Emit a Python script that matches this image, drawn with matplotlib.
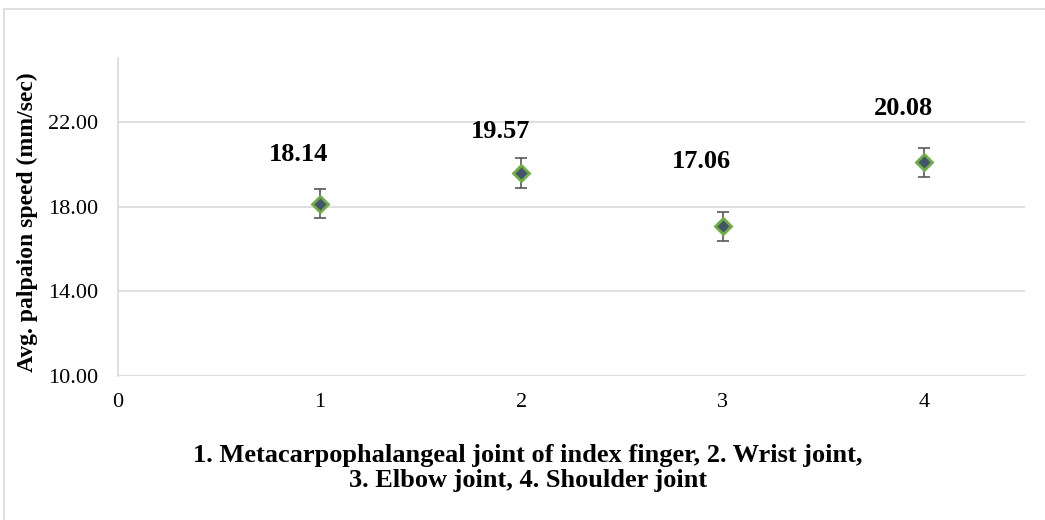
import matplotlib.pyplot as plt
from matplotlib.patches import Rectangle

plt.rcParams['font.family'] = ['Liberation Serif', 'DejaVu Serif']

joints = [1, 2, 3, 4]
speed = [18.14, 19.57, 17.06, 20.08]
err = [0.7, 0.7, 0.7, 0.7]
y_ticks = [10, 14, 18, 22]
x_ticks = [0, 1, 2, 3, 4]

# data label offsets (pixels), labels were dragged by hand in the original
label_dx = [-21, -21, -21, -21]
label_dy = [49, 42, 65, 54]

fig = plt.figure(figsize=(10.45, 5.2), dpi=100)
ax = fig.add_axes([0.1129, 0.277, 0.868, 0.611])

# outer chart border (Excel style)
fig.patches.append(Rectangle((4 / 1045, -0.1), 1.2, (520 - 9) / 520 + 0.1,
                             transform=fig.transFigure, fill=False,
                             edgecolor='#D9D9D9', linewidth=1.2))

ax.errorbar(joints, speed, yerr=err, fmt='none', ecolor='#595959',
            elinewidth=1.2, capsize=4.3, capthick=1.2, zorder=3)
ax.plot(joints, speed, linestyle='none', marker='D', markersize=8.5,
        markerfacecolor='#44546A', markeredgecolor='#70AD47',
        markeredgewidth=2, zorder=4)

for x, y, dx, dy in zip(joints, speed, label_dx, label_dy):
    ax.annotate(f'{y:.2f}', (x, y), xytext=(dx * 0.72, dy * 0.72),
                textcoords='offset points', ha='center', va='center',
                fontsize=19, fontweight='bold')

ax.set_xlim(0, 4.5)
ax.set_ylim(10, 25)
ax.set_xticks(x_ticks)
ax.set_yticks(y_ticks)
ax.set_yticklabels([f'{v:.2f}' for v in y_ticks])
ax.tick_params(length=0, labelsize=16, colors='black')
ax.tick_params(axis='y', pad=14)
ax.tick_params(axis='x', pad=12)
ax.grid(axis='y', color='#D9D9D9', linewidth=1.2)
ax.set_axisbelow(True)
for s in ['top', 'right', 'bottom']:
    ax.spines[s].set_visible(False)
ax.spines['left'].set_color('#D9D9D9')
ax.spines['left'].set_linewidth(1.2)

fig.text(27.5 / 1045, 1 - 222 / 520, 'Avg. palpaion speed (mm/sec)', rotation=90,
         ha='center', va='center', fontsize=17, fontweight='bold')
fig.text(528 / 1045, 1 - 468 / 520,
         '1. Metacarpophalangeal joint of index finger, 2. Wrist joint,\n3. Elbow joint, 4. Shoulder joint',
         ha='center', va='center', fontsize=19, fontweight='bold', linespacing=1.15)

fig.savefig('out.png', dpi=100)
